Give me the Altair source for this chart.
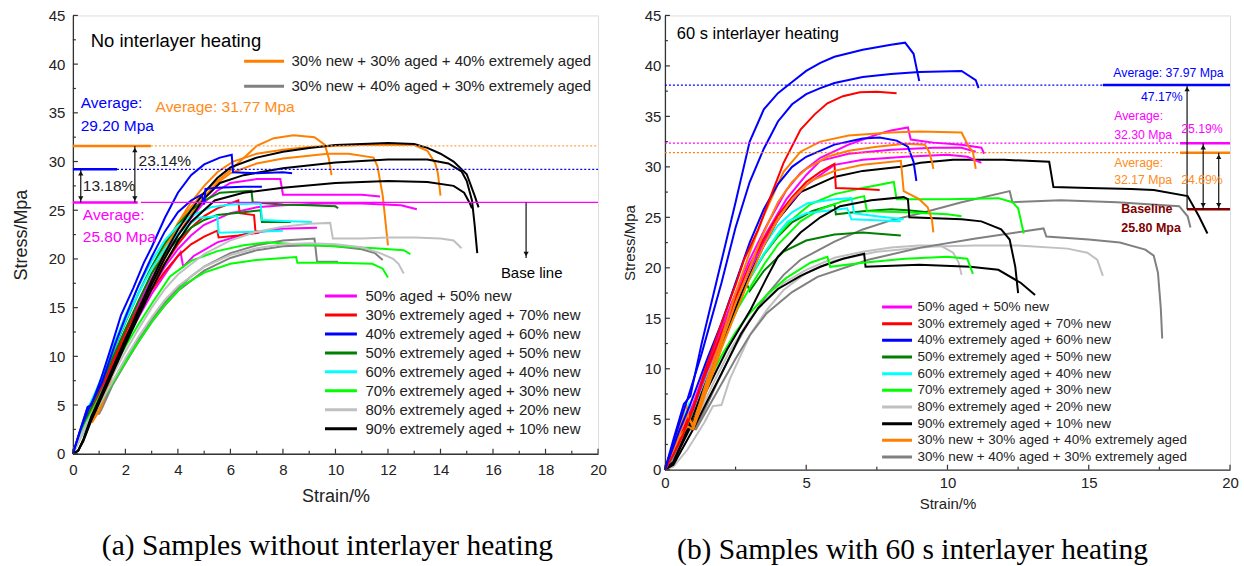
import altair as alt
import pandas as pd

FONT = "Liberation Sans"
SERIF = "Liberation Serif"
AX = "#333333"
TXT = "#222222"

MAIN_SERIES = ["50% aged + 50% new", "30% extremely aged + 70% new", "40% extremely aged + 60% new",
               "50% extremely aged + 50% new", "60% extremely aged + 40% new", "70% extremely aged + 30% new",
               "80% extremely aged + 20% new", "90% extremely aged + 10% new"]
EXTRA_SERIES = ["30% new + 30% aged + 40% extremely aged", "30% new + 40% aged + 30% extremely aged"]
MAIN_COLORS = ["#FF00FF", "#FF0000", "#0000FF", "#007F00", "#00FFFF", "#00FF00", "#C0C0C0", "#000000"]
EXTRA_COLORS = ["#FF8000", "#808080"]

# ---------------- panel (a): no interlayer heating (strain %, stress MPa) ----------------
A_MAG_1 = [(0,0),(0.5,3.5),(1,6.5),(1.5,9.5),(2,12.5),(2.5,15.3),(3,18),(3.5,20.5),(4,22.5),(4.5,24.2),(5,25.8),(5.5,27),(6,27.8),(7,28.2),(7.9,28.2),(8.0,26.6),(9,26.6),(10,26.6),(11,26.6),(11.7,26.4)]
A_MAG_2 = [(0,0),(0.5,3.3),(1,6.2),(1.5,9),(2,11.8),(2.5,14.5),(3,17),(3.5,19.2),(4,21),(4.5,22.4),(5,23.5),(6,24.7),(7,25.3),(8,25.5),(9.5,25.7),(11,25.7),(12.5,25.5),(13.1,25.1)]
A_MAG_3 = [(0,0),(0.5,3.3),(1,6),(1.5,8.8),(2,11.5),(2.5,14),(3,16.4),(3.6,18.8),(4.1,20.7),(4.2,19.2),(4.6,20.3),(5.5,21.7),(6.5,22.5),(7.9,23.1),(9.3,23.2)]
A_RED_1 = [(0,0),(0.5,3.5),(1,6.5),(1.5,9.5),(2,12.5),(2.5,15),(3,17.5),(3.5,19.5),(4,21.5),(4.5,23.2),(5,24.4),(5.5,25.2),(6.3,26.0),(6.35,24.7),(6.9,24.5),(6.95,22.9),(7.1,22.7)]
A_RED_2 = [(0,0),(0.5,3.3),(1,6.3),(1.5,9.2),(2,12),(2.5,14.5),(3,16.8),(3.5,18.7),(4,20.3),(4.5,21.5),(5,22.3),(5.5,22.9),(5.55,22.2),(6.3,22.4),(7.1,22.7)]
A_BLU_1 = [(0,0),(0.25,2.2),(0.56,4.8),(0.7,5.0),(1.06,7.6),(1.5,11.3),(1.83,14.2),(2.3,17),(2.7,19.6),(3.0,21.2),(3.5,24.2),(4.0,26.8),(4.5,28.6),(5.0,29.7),(5.6,30.4),(6.05,30.7),(6.1,28.9),(7.0,28.8),(8.0,28.9),(8.35,28.8)]
A_BLU_2 = [(0,0),(0.3,2.5),(0.6,4.6),(1.1,7.3),(1.6,11.2),(2.0,14.0),(2.5,17.3),(3.0,20.2),(3.5,22.8),(4.0,24.8),(4.5,26.0),(4.9,26.6),(5.0,25.6),(5.05,27.2),(5.5,27.3),(6.5,27.4),(7.2,27.4)]
A_DGR_1 = [(0,0),(0.5,3.8),(1,7),(1.5,10.3),(2,13.5),(2.5,16.5),(3,19.2),(3.5,21.6),(4,23.5),(4.5,25),(5,26),(5.6,26.8),(6.8,27.0),(6.85,25.8),(8,25.6),(9,25.5),(10,25.4),(10.1,25.2)]
A_DGR_2 = [(0,0),(0.5,3.6),(1,6.6),(1.5,9.8),(2,12.8),(2.5,15.7),(3,18.5),(3.5,20.5),(4,22),(4.5,23.2),(5,24),(5.5,24.5),(6.5,24.8),(7.15,25.0),(7.2,23.8),(8.3,23.8)]
A_CYA_1 = [(0,0),(0.5,4.2),(1,7.2),(1.5,10.8),(2,14.2),(2.5,17.2),(3,19.8),(3.5,21.9),(4,23.4),(4.5,24.4),(5.25,25.3),(6,25.6),(7.15,25.7),(7.2,24.0),(8,23.9),(9.1,23.8)]
A_CYA_2 = [(0,0),(0.5,4),(1,7),(1.5,10.4),(2,13.6),(2.5,16.5),(3,19),(3.5,21),(4,22.6),(4.75,24.2),(5.5,24.4),(5.55,22.7),(7,22.8),(8,22.9)]
A_LIM_1 = [(0,0),(0.5,3.2),(1,5.8),(1.5,8.5),(2,11),(2.5,13.3),(3,15.4),(3.7,18.2),(4.5,19.8),(5.5,20.8),(6.5,21.4),(7.4,21.7),(8.5,21.5),(10,21.3),(11.5,21.1),(12.6,20.9),(12.85,20.5)]
A_LIM_2 = [(0,0),(0.5,2.8),(1,5),(1.5,7.2),(2.3,10.7),(3,13.5),(3.5,15.3),(4.2,17.3),(5,18.6),(6,19.5),(7,19.9),(8.5,20.2),(8.55,19.6),(10,19.6),(11.4,19.5),(11.8,19.0),(12.0,18.1)]
A_LGR_1 = [(0,0),(0.5,3),(1,5.5),(1.5,8),(2,10.5),(2.5,12.8),(3,15),(3.5,16.9),(4,18.4),(5,20.5),(6,21.9),(7,22.8),(8,23.3),(9,23.6),(9.8,23.7),(9.9,22.1),(11,22.1),(12,22.2),(13,22.2),(14,22.1),(14.5,21.9),(14.8,21.1)]
A_LGR_2 = [(0,0),(0.5,2.8),(1,5),(1.5,7.4),(2,9.8),(2.5,12),(3,14),(3.5,15.8),(4,17.2),(5,19.2),(6,20.4),(7,21.1),(8,21.5),(9,21.6),(10,21.5),(11,21.2),(11.7,20.6),(12.2,20),(12.4,19.5),(12.6,18.5)]
A_BLK_1 = [(0,0),(0.2,0.3),(0.4,1.5),(0.7,3.8),(1,5.6),(1.5,8.7),(2,11.8),(2.5,14.8),(3,17.8),(3.5,20.6),(4,23),(4.5,25),(5,26.8),(5.5,28.3),(6,29.4),(7,30.4),(8,31.0),(9,31.4),(10,31.7),(11,31.8),(12,31.9),(13,31.8),(13.5,31.4),(14,30.8),(14.5,30.0),(15.0,28.7),(15.3,26.5),(15.45,25.3)]
A_BLK_2 = [(0,0),(0.2,0.3),(0.4,1.4),(0.7,3.6),(1,5.4),(1.5,8.5),(2,11.5),(2.5,14.5),(3,17.4),(3.5,20.1),(4,22.4),(4.5,24.3),(5,26.2),(5.6,27.8),(6.5,28.6),(8,29.3),(10,29.9),(12,30.2),(13.5,30.2),(14.3,29.8),(14.8,29.0),(15.0,28.0),(15.2,26),(15.3,23.5),(15.4,20.6)]
A_BLK_3 = [(0,0),(0.2,0.3),(0.4,1.3),(0.7,3.4),(1,5.2),(1.5,8.2),(2,11.2),(2.5,14.1),(3,16.9),(3.5,19.5),(4,21.8),(4.5,23.8),(5.4,26.0),(6.5,26.8),(8,27.3),(10,27.8),(12,28.0),(13.5,27.9),(14.5,27.5),(14.9,26.8),(15.1,25.8),(15.2,25.2)]
A_ORA_1 = [(0,0),(0.3,2.5),(0.55,4.6),(0.7,3.4),(1.0,4.8),(1.5,8.3),(2,11.7),(2.5,14.8),(2.97,17.6),(3.4,20.3),(3.85,22.7),(4.3,24.7),(4.87,26.5),(5.4,27.8),(6.0,29.1),(6.4,30.1),(7.0,31.6),(7.65,32.4),(8.4,32.7),(9.2,32.5),(9.6,31.7),(9.75,30.3),(9.85,28.6)]
A_ORA_2 = [(0,0),(0.3,2.3),(0.55,4.3),(0.75,3.3),(1.05,4.6),(1.5,8),(2,11.3),(2.5,14.4),(3,17.3),(3.5,20),(4,22.5),(4.5,24.6),(5,26.4),(5.5,27.8),(6,28.8),(7,29.8),(8,30.3),(9.7,30.8),(10.5,30.8),(11.45,30.4),(11.6,29.5),(11.8,26.5),(12.0,21.4)]
A_ORA_3 = [(0,0),(0.3,2.6),(0.55,4.6),(0.7,3.6),(1.0,5.2),(1.5,8.8),(2,12.3),(2.5,15.5),(3,18.5),(3.5,21.3),(4,23.7),(4.5,25.8),(5,27.5),(5.5,28.9),(6.1,30.0),(7,30.8),(8,31.2),(9,31.5),(11,31.7),(13,31.7),(13.5,31.1),(13.8,29.8),(13.9,28.8),(14.0,26.5)]
A_GRY_1 = [(0,0),(0.3,2.5),(0.6,4.3),(0.8,4.2),(1.0,4.3),(1.1,5),(1.5,7.3),(2,9.6),(2.5,11.8),(3,13.8),(3.5,15.5),(4,17),(4.5,18.2),(5,19.2),(6,20.6),(7,21.4),(8,21.9),(9.2,22.1),(9.3,19.7),(10.1,19.7)]
A_GRY_2 = [(0,0),(0.3,2.4),(0.6,4.1),(1.0,4.1),(1.1,4.6),(1.5,7),(2,9.3),(2.5,11.5),(3,13.5),(3.5,15.2),(4,16.7),(5,18.8),(6,20.1),(7,20.9),(8,21.3),(9,21.4),(10,21.3),(11,21.0),(11.5,20.6),(11.8,19.9)]

A_MAIN = [(0, A_MAG_1), (0, A_MAG_2), (0, A_MAG_3), (1, A_RED_1), (1, A_RED_2),
          (3, A_DGR_1), (3, A_DGR_2), (4, A_CYA_1), (4, A_CYA_2), (5, A_LIM_1), (5, A_LIM_2),
          (6, A_LGR_1), (6, A_LGR_2), (7, A_BLK_1), (7, A_BLK_2), (7, A_BLK_3), (2, A_BLU_1), (2, A_BLU_2)]
A_EXTRA = [(1, A_GRY_1), (1, A_GRY_2), (0, A_ORA_1), (0, A_ORA_2), (0, A_ORA_3)]

# ---------------- panel (b): 60 s interlayer heating ----------------
B_MAG_1 = [(0,0),(0.5,3),(1,6.5),(1.5,10.5),(2,14),(2.5,17.5),(3,20.8),(3.6,24.2),(4.3,27.7),(4.8,29.4),(5.5,30.9),(6.5,32.2),(7.5,33.2),(8.0,33.6),(8.6,33.9),(8.7,32.7),(9.5,32.4),(10.5,32.2),(11.2,31.9),(11.3,31.3)]
B_MAG_2 = [(0,0),(0.5,2.8),(1,6.2),(1.5,10),(2,13.5),(2.5,17),(3,20.3),(3.6,23.5),(4.3,26.8),(5,29.2),(5.5,30.6),(6.5,31.3),(8,31.7),(9.5,31.9),(10.5,31.9),(11,31.5)]
B_MAG_3 = [(0,0),(0.5,2.7),(1,6),(1.5,9.8),(2,13.2),(2.5,16.6),(3,19.8),(3.6,23),(4.3,26),(5,28.2),(6,30.2),(7,30.7),(8.5,31),(10,31.2),(10.7,31.0),(11.2,30.4)]
B_RED_1 = [(0,0),(0.3,1.5),(0.6,3.2),(1,6),(1.5,10.5),(2,14.5),(2.5,18.3),(2.8,20.8),(3.3,23.8),(3.8,27.5),(4.2,30.4),(4.8,33.7),(5.3,35.2),(5.75,36.3),(6.3,37),(6.9,37.4),(7.5,37.45),(8.2,37.3)]
B_RED_2 = [(0,0),(0.5,3),(1,6.2),(1.5,10),(2,13.5),(2.5,17),(3,20.2),(3.5,22.8),(4,25.2),(4.5,27),(5,28.5),(5.5,29.5),(6.0,30.3),(6.05,27.9),(7,27.8),(7.6,27.7)]
B_BLU_1 = [(0,0),(0.3,3),(0.67,6.5),(0.9,7.3),(1.3,12.5),(1.9,19.5),(2.5,26.5),(3.0,32.5),(3.5,35.7),(4,37.3),(4.5,38.4),(5,39.5),(5.5,40.3),(6,40.9),(7,41.6),(8,42.1),(8.5,42.3),(8.8,41.2),(9.0,38.5)]
B_BLU_2 = [(0,0),(0.5,4.5),(0.8,7),(1.3,11.5),(2,18.5),(2.5,24),(3,28.5),(3.5,31.8),(4,34.5),(4.5,36.2),(5,37.2),(5.5,37.8),(6,38.3),(7,38.9),(8,39.2),(9,39.4),(10.5,39.5),(11,38.6),(11.1,37.8)]
B_BLU_3 = [(0,0),(0.5,3.8),(0.9,6.5),(1.5,11),(2,14.5),(2.5,18.5),(3,22.5),(3.5,25.8),(4,28.3),(4.5,30),(5,31),(6,32.2),(7,32.8),(7.6,32.9),(8.2,32.6),(8.6,32),(8.8,30.5),(8.9,28.6)]
B_DGR_1 = [(0,0),(0.5,3.5),(1,6.3),(1.5,9.8),(2,13),(2.5,16.3),(3,19),(3.5,21.3),(4,23.1),(4.5,24.5),(5.2,25.6),(6.0,26.3),(6.05,25.3),(7,25.6),(8,25.8),(8.6,25.7),(9.3,25.5)]
B_DGR_2 = [(0,0),(0.5,3.2),(1,5.8),(1.5,9),(2,12.5),(2.5,15.5),(2.9,18.4),(3.0,17.7),(3.5,19.7),(4.2,21.6),(5,22.7),(6,23.3),(7,23.5),(8.35,23.2)]
B_CYA_1 = [(0,0),(0.5,3.8),(0.85,6.5),(0.95,5.5),(1.2,7.5),(1.5,10),(2,13.8),(2.5,17),(3,19.8),(3.5,22.2),(4,24.2),(4.5,25.5),(5.05,26.4),(6,26.8),(6.6,26.9),(6.7,25.4),(7.5,25.1),(8.45,24.8)]
B_CYA_2 = [(0,0),(0.5,3.5),(1,6),(1.5,9.5),(2,13),(2.5,16.2),(3,19),(3.5,21.4),(4,23.4),(4.35,24.6),(5,25.4),(6.45,25.9),(6.6,24.8),(7.5,24.7),(8.35,24.6)]
B_LIM_1 = [(0,0),(0.5,3.5),(1,6.5),(1.5,10),(2,13.2),(2.5,16.2),(3,18.9),(3.5,21.3),(4,23.2),(4.5,24.8),(5.15,26.3),(6,27.3),(7,27.9),(8.1,28.5),(8.2,26.8),(10,26.8),(11.8,26.9),(12.3,26.5),(12.5,25.9),(12.7,23.4)]
B_LIM_2 = [(0,0),(0.5,3.3),(1,6),(1.5,9.5),(2,12.6),(2.5,15.6),(3,18),(3.5,20.3),(4,22.3),(4.8,24.6),(5.5,25.8),(6.3,26.6),(7.05,27.1),(7.15,25.6),(8.5,25.5),(10,25.3),(10.5,25.1)]
B_LIM_3 = [(0,0),(0.5,2.8),(1,5.5),(1.5,8.5),(2,11.3),(2.5,13.6),(3,15.5),(3.6,17.3),(4.3,19),(5.15,20.5),(5.75,21.1),(5.85,20.1),(7,20.5),(8.5,20.9),(10,21.1),(10.7,20.9),(10.9,19.4)]
B_LGR_1 = [(0,0),(0.3,0.3),(0.8,2),(1.4,4.7),(1.7,6.3),(2.0,6.4),(2.3,9),(3.04,13.5),(3.6,15.8),(4.2,17.8),(5,19.5),(6,20.7),(7.5,21.6),(9.5,22.1),(11,22.2),(12.5,22.2),(14.25,21.9),(14.95,21.5),(15.3,20.8),(15.5,19.2)]
B_LGR_2 = [(0,0),(0.4,1.5),(0.8,3.5),(1.2,5.5),(1.7,8.5),(2.3,11.8),(3,14.9),(3.6,17),(4.2,18.5),(5,19.8),(6,21),(7,21.6),(8,22.0),(9,22.2),(9.75,22.2),(10.2,21.5),(10.4,20.5),(10.5,19.3)]
B_BLK_1 = [(0,0),(0.3,0.8),(0.6,2.7),(1,5.3),(1.5,9),(2,12.5),(2.5,16),(3,19.3),(3.5,22.2),(4,24.8),(4.8,27.5),(6,29.0),(7,29.6),(8.35,30.0),(9.05,30.4),(10.2,30.7),(12,30.7),(13.6,30.5),(13.75,28.0),(15,27.9),(16.5,27.8),(17.3,27.7),(18.5,27.1),(18.9,25.1),(19.2,23.4)]
B_BLK_2 = [(0,0),(0.3,0.7),(0.6,2.5),(1,4.8),(1.5,8),(2.2,11.9),(3.04,15.9),(3.6,19),(4,21.1),(4.8,23.5),(5.5,25),(6.2,26.1),(7.3,26.7),(8.45,27.0),(8.6,26.8),(8.65,25.0),(10.5,24.8),(11.2,24.6),(11.9,23.8),(12.2,22.8),(12.4,20.1),(12.5,17.5)]
B_BLK_3 = [(0,0),(0.3,0.5),(0.6,2),(1,4),(1.5,6.8),(2,9.5),(2.7,13.5),(3.3,16),(4,17.9),(4.8,19.2),(5.5,20.1),(6.3,20.9),(7.05,21.4),(7.1,20.1),(9,20.3),(10.8,20.1),(11.8,19.8),(12.6,18.5),(13.1,17.3)]
B_ORA_1 = [(0,0),(0.3,2),(0.6,5),(0.75,6.5),(0.85,5),(1,4.5),(1.5,9),(2,13),(2.5,17.5),(3,21.5),(3.5,25.2),(4.2,29.5),(4.8,31.5),(5.5,32.5),(6.5,33.1),(8,33.4),(9,33.5),(10.5,33.4),(10.75,32),(10.9,31.5),(11.0,29.8)]
B_ORA_2 = [(0,0),(0.5,3.5),(0.8,5.5),(1,4.2),(1.5,8.5),(2,12.5),(2.5,16.5),(3,20),(3.5,23.5),(4,26.5),(4.5,28.5),(5,29.8),(5.75,31),(6.5,31.6),(7.5,32.0),(8.5,32.3),(9.2,32.2),(9.35,31.5),(9.45,30.5),(9.5,29.8)]
B_ORA_3 = [(0,0),(0.5,3.2),(0.8,4.3),(1,4),(1.5,8),(2,12),(2.5,15.5),(3,19),(3.5,22.2),(4,24.8),(4.5,26.8),(5.15,28.6),(6,29.6),(7,30.2),(8.35,30.6),(8.45,27.6),(9.0,26.8),(9.3,26.0),(9.45,24.8),(9.5,23.5)]
B_GRY_1 = [(0,0),(0.3,1.5),(0.6,3.5),(0.8,4.2),(1.1,4.2),(1.5,6.5),(2,9.5),(2.5,12.3),(3,14.8),(3.6,17.3),(4.2,19.3),(4.8,20.8),(6,22.6),(7,23.8),(8,24.7),(9.05,25.4),(10.5,26.5),(12.2,27.6),(12.3,26.5),(14,26.7),(16,26.5),(18.2,26.1),(18.5,25.1),(18.6,24.0)]
B_GRY_2 = [(0,0),(0.3,1.2),(0.6,3.2),(0.8,4),(1.1,4),(1.3,5),(2,8.5),(2.5,11),(3,13.3),(3.6,15.5),(4.5,17.6),(5.4,19.1),(7.2,20.8),(9.05,22.0),(11,22.9),(13.4,23.9),(13.5,23.1),(15,22.8),(16.1,22.5),(17,21.8),(17.3,21.2),(17.45,19.5),(17.55,16),(17.6,13)]

B_CURVES = [(6, B_LGR_1), (6, B_LGR_2), (9, B_GRY_1), (9, B_GRY_2), (7, B_BLK_3), (5, B_LIM_3),
            (3, B_DGR_2), (3, B_DGR_1), (5, B_LIM_2), (5, B_LIM_1), (4, B_CYA_2), (4, B_CYA_1),
            (7, B_BLK_2), (7, B_BLK_1), (0, B_MAG_3), (0, B_MAG_2), (0, B_MAG_1), (1, B_RED_2),
            (8, B_ORA_3), (8, B_ORA_2), (8, B_ORA_1), (2, B_BLU_3), (1, B_RED_1), (2, B_BLU_2), (2, B_BLU_1)]

A_XTICKS = [0, 2, 4, 6, 8, 10, 12, 14, 16, 18, 20]
A_XMINOR = [1, 3, 5, 7, 9, 11, 13, 15, 17, 19]
B_XTICKS = [0, 5, 10, 15, 20]
B_XMINOR = [2.5, 7.5, 12.5, 17.5]
YTICKS = [0, 5, 10, 15, 20, 25, 30, 35, 40, 45]
YMINOR = [2.5, 7.5, 12.5, 17.5, 22.5, 27.5, 32.5, 37.5, 42.5]

# reference lines (x from, x to, stress level, colour)
A_SOLID = [(0, 2.97, 31.6, "#FF8000"), (0, 1.68, 29.2, "#0000FF"), (0, 2.47, 25.8, "#FF00FF")]
A_THIN = [(2.59, 20, 25.8, "#FF00FF")]
A_DOTTED = [(2.97, 20, 31.6, "#FFA64D"), (1.68, 20, 29.2, "#0000FF")]
A_ARROWS = [(2.36, 25.8, 31.6, True, True), (0.3, 25.8, 29.2, True, True), (17.26, 20.1, 25.8, True, False)]
A_TEXT = [(0.68, 42.4, "No interlayer heating", "#000000", 18.5),
          (0.3, 36.0, "Average:", "#0000FF", 15.5), (0.3, 33.6, "29.20 Mpa", "#0000FF", 15.5),
          (3.15, 35.55, "Average: 31.77 Mpa", "#FF8C1A", 15.5),
          (2.5, 30.1, "23.14%", "#222222", 15.5), (0.38, 27.5, "13.18%", "#222222", 15.5),
          (0.38, 24.5, "Average:", "#FF00FF", 15.5), (0.38, 22.3, "25.80 Mpa", "#FF00FF", 15.5),
          (16.3, 18.6, "Base line", "#000000", 15)]

B_SOLID = [(15.5, 20, 38.1, "#0000FF"), (18.23, 20, 32.35, "#FF00FF"), (18.23, 20, 31.4, "#FF8000"), (18.48, 20, 25.8, "#800000")]
B_DOTTED = [(0, 15.5, 38.1, "#0000FF"), (0, 18.23, 32.35, "#FF00FF"), (0, 18.23, 31.4, "#FF8000")]
B_ARROWS = [(18.48, 25.8, 38.1, False, True), (19.05, 25.8, 32.35, True, True), (19.6, 25.8, 31.4, True, True)]
B_TEXT = [(0.42, 43.2, "60 s interlayer heating", "#000000", 16.5),
          (15.87, 39.3, "Average: 37.97 Mpa", "#0000FF", 12.3), (16.85, 36.9, "47.17%", "#0000FF", 12.3),
          (15.9, 35.0, "Average:", "#FF00FF", 12.3), (15.9, 33.2, "32.30 Mpa", "#FF00FF", 12.3),
          (18.27, 33.7, "25.19%", "#FF00FF", 12.3),
          (15.9, 30.4, "Average:", "#FF8C1A", 12.3), (15.9, 28.7, "32.17 Mpa", "#FF8C1A", 12.3),
          (18.27, 28.7, "24.69%", "#FF8C1A", 12.3)]
B_BOLD = [(16.15, 25.8, "Baseline", "#800000", 12.5), (16.15, 23.9, "25.80 Mpa", "#800000", 12.5)]


def curve_frame(curves, names):
    rows = []
    for cid, (k, pts) in enumerate(curves):
        for i, (sx, sy) in enumerate(pts):
            rows.append({"series": names[k], "curve": cid, "idx": i, "strain": sx, "stress": sy})
    return pd.DataFrame(rows)


def X(axis=None, field="strain"):
    return alt.X(f"{field}:Q", scale=alt.Scale(domain=[0, 20], nice=False), axis=axis)


def Y(axis=None, field="stress"):
    return alt.Y(f"{field}:Q", scale=alt.Scale(domain=[0, 45], nice=False), axis=axis)


def main_axes(xvals, xlp, xtp, ylp, ytp, tsize):
    common = dict(ticks=False, grid=False, domainColor=AX, domainWidth=1.3, labelFont=FONT, labelFontSize=15,
                  labelColor=TXT, labelFlush=False, titleFont=FONT, titleFontSize=tsize, titleFontWeight="normal",
                  titleColor=TXT)
    ax = alt.Axis(orient="bottom", values=xvals, labelPadding=xlp, title="Strain/%", titlePadding=xtp, **common)
    ay = alt.Axis(orient="left", values=YTICKS, labelPadding=ylp, title="Stress/Mpa", titlePadding=ytp, **common)
    return ax, ay


def tick_rules(xvals, yvals, length, height):
    dx = pd.DataFrame({"tv": xvals})
    dy = pd.DataFrame({"tv": yvals})
    tx = alt.Chart(dx).mark_rule(color=AX, strokeWidth=1.2).encode(
        x=X(field="tv"), y=alt.value(height), y2=alt.value(height - length))
    ty = alt.Chart(dy).mark_rule(color=AX, strokeWidth=1.2).encode(
        y=Y(field="tv"), x=alt.value(0), x2=alt.value(length))
    return [tx, ty]


def rules(data, dash=None, width=2.5):
    df = pd.DataFrame(data, columns=["strain", "strain2", "stress", "color"])
    props = dict(strokeWidth=width)
    if dash:
        props["strokeDash"] = dash
    return alt.Chart(df).mark_rule(**props).encode(
        x=X(), x2="strain2:Q", y=Y(), color=alt.Color("color:N", scale=None))


def arrows(data):
    df = pd.DataFrame(data, columns=["strain", "lo", "hi", "down", "up"])
    line = alt.Chart(df).mark_rule(color="#111111", strokeWidth=1.2).encode(
        x=X(), y=Y(field="lo"), y2="hi:Q")
    ups = alt.Chart(df[df["up"]]).mark_point(shape="triangle-up", filled=True, color="#111111", size=28,
                                              yOffset=4, opacity=1).encode(x=X(), y=Y(field="hi"))
    downs = alt.Chart(df[df["down"]]).mark_point(shape="triangle-down", filled=True, color="#111111", size=28,
                                                  yOffset=-4, opacity=1).encode(x=X(), y=Y(field="lo"))
    return [line, ups, downs]


def texts(data, bold=False):
    df = pd.DataFrame(data, columns=["strain", "stress", "text", "color", "size"])
    return alt.Chart(df).mark_text(align="left", baseline="middle", font=FONT,
                                   fontWeight="bold" if bold else "normal").encode(
        x=X(), y=Y(), text="text:N", color=alt.Color("color:N", scale=None), size=alt.Size("size:Q", scale=None))


def legend(x, y, sym, lsize, offset, clip, rowpad):
    return alt.Legend(orient="none", legendX=x, legendY=y, title=None, symbolType="stroke",
                      symbolSize=sym * sym, symbolStrokeWidth=3, labelFont=FONT, labelFontSize=lsize,
                      labelColor=TXT, labelOffset=offset, clipHeight=clip, rowPadding=rowpad,
                      labelLimit=500, padding=0)


# ---------------- build panel (a) ----------------
HA, HB = 439, 455
ax_a, ay_a = main_axes(A_XTICKS, 9, 10, 8, 18, 18)
df_a_main = curve_frame(A_MAIN, MAIN_SERIES)
df_a_extra = curve_frame(A_EXTRA, EXTRA_SERIES)

a_lines_main = alt.Chart(df_a_main).mark_line(strokeWidth=2).encode(
    x=X(ax_a), y=Y(ay_a), detail="curve:N", order="idx:Q",
    color=alt.Color("series:N", scale=alt.Scale(domain=MAIN_SERIES, range=MAIN_COLORS),
                    legend=legend(251, 273, 32, 15, 7, 16, 3)))
a_lines_extra = alt.Chart(df_a_extra).mark_line(strokeWidth=2).encode(
    x=X(), y=Y(), detail="curve:N", order="idx:Q",
    color=alt.Color("series:N", scale=alt.Scale(domain=EXTRA_SERIES, range=EXTRA_COLORS),
                    legend=legend(170, 38, 40, 15, 6, 16, 9)))

panel_a = alt.layer(
    a_lines_extra, a_lines_main,
    rules(A_SOLID, width=2.5), rules(A_THIN, width=1.3), rules(A_DOTTED, dash=[2, 2], width=1.2),
    *arrows(A_ARROWS), texts(A_TEXT),
    *tick_rules(A_XTICKS, YTICKS, 5, HA), *tick_rules(A_XMINOR, YMINOR, 3, HA),
).resolve_scale(color="independent").resolve_axis(x="independent", y="independent").properties(
    width=526, height=HA,
    title=alt.TitleParams("(a) Samples without interlayer heating", orient="bottom", font=SERIF, fontSize=29.5,
                          fontWeight="normal", color="#000000", frame="group", anchor="middle", dx=-8, offset=26))

# ---------------- build panel (b) ----------------
ax_b, ay_b = main_axes(B_XTICKS, 6, 6, 4, 7, 15)
ALL_SERIES = MAIN_SERIES + EXTRA_SERIES
df_b = curve_frame(B_CURVES, ALL_SERIES)
b_lines = alt.Chart(df_b).mark_line(strokeWidth=2).encode(
    x=X(ax_b), y=Y(ay_b), detail="curve:N", order="idx:Q",
    color=alt.Color("series:N", scale=alt.Scale(domain=ALL_SERIES, range=MAIN_COLORS + EXTRA_COLORS),
                    legend=legend(216, 285, 30, 13.5, 4, 14, 2.7)))

panel_b = alt.layer(
    b_lines,
    rules(B_SOLID, width=2.5), rules(B_DOTTED, dash=[2, 2], width=1.2),
    *arrows(B_ARROWS), texts(B_TEXT), texts(B_BOLD, bold=True),
    *tick_rules(B_XTICKS, YTICKS, 5, HB), *tick_rules(B_XMINOR, YMINOR, 3, HB),
).resolve_scale(color="independent").resolve_axis(x="independent", y="independent").properties(
    width=566, height=HB,
    title=alt.TitleParams("(b) Samples with 60 s interlayer heating", orient="bottom", font=SERIF, fontSize=29.5,
                          fontWeight="normal", color="#000000", frame="group", anchor="middle", dx=-35, offset=24))

chart = alt.hconcat(panel_a, panel_b, spacing=14).properties(
    padding={"left": 11, "top": 7, "right": 5, "bottom": 5}
).configure_view(stroke=AX, strokeWidth=1.3).configure(background="white")

chart.save("out.html", embed_options={"renderer": "svg", "actions": False})
